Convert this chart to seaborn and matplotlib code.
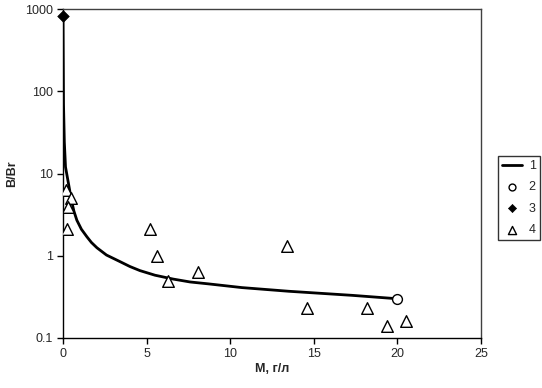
import matplotlib
matplotlib.use('Agg')
import matplotlib.pyplot as plt
import numpy as np
import pandas as pd
import seaborn as sns

# series 1: fitted curve
line_x = [0.0, 0.03, 0.08, 0.15, 0.32, 0.5, 0.65, 0.83, 1.1, 1.43, 1.7, 2.03, 2.6, 3.4,
          4.0, 4.6, 5.5, 6.6, 7.6, 8.7, 10.7, 13.5, 17.3, 20.0]
line_y = [800, 70, 24, 12, 7.7, 4.8, 3.5, 2.7, 2.1, 1.7, 1.45, 1.25, 1.02, 0.85,
          0.74, 0.66, 0.58, 0.52, 0.48, 0.455, 0.41, 0.37, 0.33, 0.30]

# series 2: open circle
circ_x = [20.0]
circ_y = [0.30]

# series 3: filled diamond
diam_x = [0.0]
diam_y = [820]

# series 4: open triangles
tri_x = [0.2, 0.45, 0.3, 0.25, 5.2, 5.6, 6.3, 8.1, 13.4, 14.6, 18.2, 19.35, 20.5]
tri_y = [6.3, 5.1, 3.9, 2.1, 2.1, 1.0, 0.5, 0.64, 1.3, 0.23, 0.23, 0.14, 0.16]

x_ticks = [0, 5, 10, 15, 20, 25]
y_ticks = [0.1, 1, 10, 100, 1000]
y_tick_labels = ['0.1', '1', '10', '100', '1000']

sns.set_style('white')
plt.rcParams['font.family'] = ['Liberation Sans', 'DejaVu Sans']

fig = plt.figure(figsize=(5.42, 3.88), dpi=100)
ax = fig.add_axes([63 / 542, 1 - 338 / 388, (481 - 63) / 542, (338 - 9) / 388])

df_line = pd.DataFrame({'x': line_x, 'y': line_y})
sns.lineplot(data=df_line, x='x', y='y', ax=ax, color='black', lw=2, label='1', sort=False)
sns.scatterplot(x=circ_x, y=circ_y, ax=ax, marker='o', s=50, facecolor='white',
                edgecolor='black', linewidth=1, label='2', zorder=5)
sns.scatterplot(x=diam_x, y=diam_y, ax=ax, marker='D', s=35, color='black',
                edgecolor='black', label='3', zorder=5, clip_on=False)
sns.scatterplot(x=tri_x, y=tri_y, ax=ax, marker='^', s=70, facecolor='white',
                edgecolor='black', linewidth=1, label='4', zorder=4)

ax.set_yscale('log')
ax.set_xlim(0, 25)
ax.set_ylim(0.1, 1000)
ax.set_xticks(x_ticks)
ax.set_xticklabels([str(t) for t in x_ticks])
ax.set_yticks(y_ticks)
ax.set_yticklabels(y_tick_labels)
ax.yaxis.set_minor_locator(matplotlib.ticker.NullLocator())
ax.tick_params(axis='both', which='major', direction='out', length=4, width=1,
               color='black', labelsize=9, bottom=True, left=True)

for side in ['left', 'bottom']:
    ax.spines[side].set_color('black')
    ax.spines[side].set_linewidth(1)
for side in ['top', 'right']:
    ax.spines[side].set_color('#404040')
    ax.spines[side].set_linewidth(1)

ax.set_xlabel('M, г/л', fontsize=9, fontweight='bold', labelpad=2)
ax.set_ylabel('B/Br', fontsize=9, fontweight='bold', labelpad=5)

handles, labels = ax.get_legend_handles_labels()
ax.get_legend().remove()
leg = fig.legend(handles, labels, loc='center left', bbox_to_anchor=(498 / 542, 1 - 198 / 388),
                 frameon=True, fancybox=False, edgecolor='black', fontsize=9,
                 handlelength=1.6, handletextpad=0.5, labelspacing=0.75, borderpad=0.35,
                 borderaxespad=0, markerscale=0.7)
leg.get_frame().set_linewidth(1)

fig.savefig('out.png', dpi=100)
